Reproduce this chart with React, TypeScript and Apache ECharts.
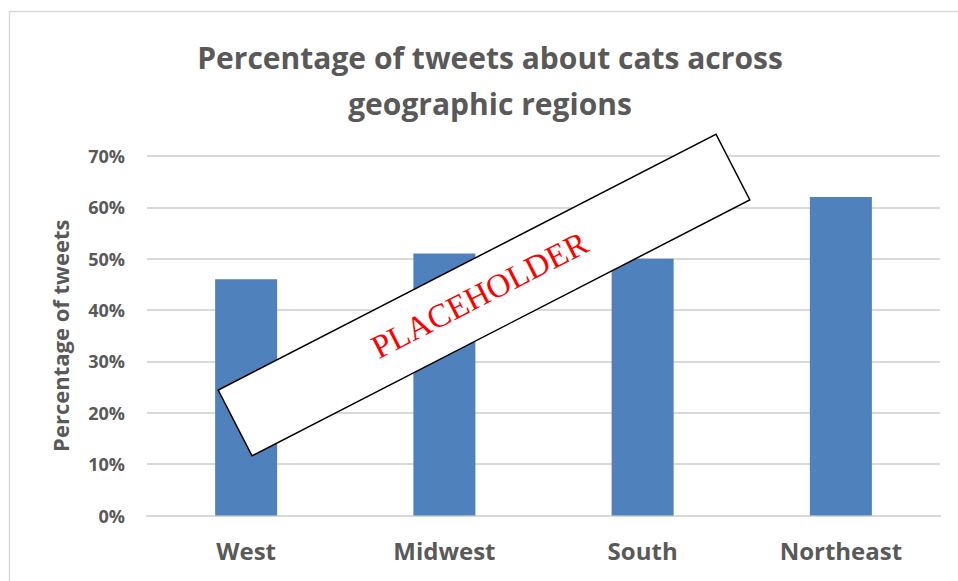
import React, { useEffect, useRef } from "react";
import * as echarts from "echarts";

const categories = ["West", "Midwest", "South", "Northeast"];
const values = [46, 51, 50, 62];
const yTicks = { min: 0, max: 70, interval: 10 };
const titleLines = ["Percentage of tweets about cats across", "geographic regions"];
const yAxisName = "Percentage of tweets";
const stampText = "PLACEHOLDER";

export default function App() {
  const ref = useRef<HTMLDivElement>(null);
  useEffect(() => {
    if (!ref.current) return;
    const chart = echarts.init(ref.current, null, { renderer: "svg" });
    const font = "'Open Sans', sans-serif";
    const gray = "#595959";
    chart.setOption({
      animation: false,
      backgroundColor: "#ffffff",
      grid: { left: 147, right: 18, top: 156, bottom: 65.5, containLabel: false },
      xAxis: {
        type: "category",
        data: categories,
        axisLine: { lineStyle: { color: "#d9d9d9", width: 2 } },
        axisTick: { show: false },
        axisLabel: { color: gray, fontFamily: font, fontWeight: "bold", fontSize: 24, margin: 23 },
      },
      yAxis: {
        type: "value",
        min: yTicks.min,
        max: yTicks.max,
        interval: yTicks.interval,
        name: yAxisName,
        nameLocation: "middle",
        nameGap: 76,
        nameRotate: 90,
        nameTextStyle: { color: gray, fontFamily: font, fontWeight: "bold", fontSize: 22 },
        axisLine: { show: false },
        axisTick: { show: false },
        axisLabel: { color: gray, fontFamily: font, fontWeight: "bold", fontSize: 18, margin: 22, formatter: "{value}%" },
        splitLine: { lineStyle: { color: "#d9d9d9", width: 2 } },
      },
      series: [
        {
          type: "bar",
          data: values,
          barWidth: 62,
          itemStyle: { color: "#4f81bd" },
        },
      ],
      graphic: [
        {
          type: "rect",
          z: -10,
          shape: { x: 9.5, y: 11.5, width: 1000, height: 700 },
          style: { fill: "none", stroke: "#d9d9d9", lineWidth: 1.5 },
        },
        {
          type: "text",
          x: 490,
          y: 80,
          style: {
            text: titleLines.join("\n"),
            fill: gray,
            font: `bold 30px ${font}`,
            textAlign: "center",
            textVerticalAlign: "middle",
            lineHeight: 46,
          },
        },
        {
          type: "group",
          x: 484,
          y: 295,
          rotation: (27.2 * Math.PI) / 180,
          z: 100,
          zlevel: 0,
          children: [
            {
              type: "rect",
              z: 100,
              shape: { x: -280, y: -37, width: 560, height: 74 },
              style: { fill: "#ffffff", stroke: "#000000", lineWidth: 1.5 },
            },
            {
              type: "text",
              z: 101,
              x: -4,
              y: -2,
              style: {
                text: stampText,
                fill: "#ff0000",
                font: "33px 'Liberation Serif', 'Times New Roman', serif",
                textAlign: "center",
                textVerticalAlign: "middle",
              },
            },
          ],
        },
      ],
    });
    return () => chart.dispose();
  }, []);
  return (
    <div
      ref={ref}
      style={{ position: "fixed", left: 0, top: 0, width: 958, height: 581 }}
    />
  );
}
